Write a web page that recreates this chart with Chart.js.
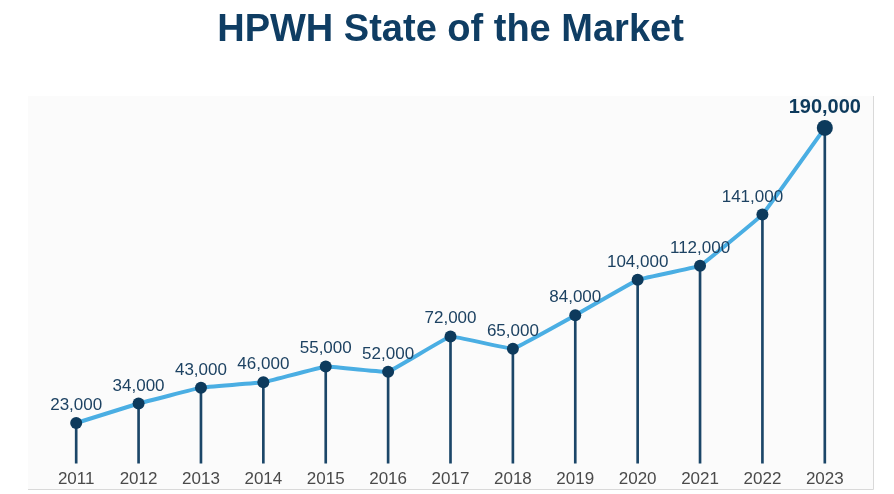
<!DOCTYPE html>
<html>
<head>
<meta charset="utf-8">
<script src="https://cdn.jsdelivr.net/npm/chart.js@4.4.1/dist/chart.umd.min.js"></script>
<style>
html,body{margin:0;padding:0;background:#fff;}
#wrap{width:894px;height:494px;position:relative;}
</style>
</head>
<body>
<div id="wrap"><canvas id="c" width="894" height="494"></canvas></div>
<script>
const years = ['2011','2012','2013','2014','2015','2016','2017','2018','2019','2020','2021','2022','2023'];
const units = [23000,34000,43000,46000,55000,52000,72000,65000,84000,104000,112000,141000,190000];
const titleText = 'HPWH State of the Market';

const FONT = "'Liberation Sans', Arial, Helvetica, sans-serif";
const NAVY = '#0d3a5c';

const panelPlugin = {
  id: 'panel',
  beforeDraw(chart) {
    const ctx = chart.ctx;
    ctx.save();
    ctx.fillStyle = '#fbfbfb';
    ctx.fillRect(28, 96, 845, 393);
    ctx.strokeStyle = '#d9d9d9';
    ctx.lineWidth = 1;
    ctx.beginPath();
    ctx.moveTo(28, 489.5); ctx.lineTo(873.5, 489.5); ctx.lineTo(873.5, 96);
    ctx.stroke();
    ctx.restore();
  }
};

const labelPlugin = {
  id: 'valueLabels',
  afterDatasetsDraw(chart) {
    const ctx = chart.ctx;
    const meta = chart.getDatasetMeta(0);
    const last = units.length - 1;
    ctx.save();
    ctx.textAlign = 'center';
    ctx.textBaseline = 'alphabetic';
    meta.data.forEach((pt, i) => {
      const txt = units[i].toLocaleString('en-US');
      if (i === last) {
        ctx.font = 'bold 20px ' + FONT;
        ctx.fillStyle = NAVY;
        ctx.fillText(txt, pt.x, pt.y - 15);
      } else {
        ctx.font = '17px ' + FONT;
        ctx.fillStyle = '#1d4262';
        const dx = (i === last - 1) ? -10 : 0;
        ctx.fillText(txt, pt.x + dx, pt.y - 13);
      }
    });
    ctx.restore();
  }
};

const radii = units.map((v, i) => i === units.length - 1 ? 8 : 6);

new Chart(document.getElementById('c'), {
  type: 'bar',
  data: {
    labels: years,
    datasets: [
      {
        type: 'line',
        data: units,
        borderColor: '#4aaee3',
        borderWidth: 4,
        tension: 0.05,
        pointRadius: radii,
        pointBackgroundColor: NAVY,
        pointBorderColor: NAVY,
        pointBorderWidth: 0,
        order: 0
      },
      {
        type: 'bar',
        data: units,
        backgroundColor: '#1b4668',
        barThickness: 2,
        order: 1
      }
    ]
  },
  options: {
    responsive: false,
    animation: false,
    devicePixelRatio: 1,
    layout: { padding: { left: 45, right: 38, top: 0, bottom: -2 } },
    plugins: {
      legend: { display: false },
      tooltip: { enabled: false },
      title: {
        display: true,
        text: titleText,
        color: '#0f3d63',
        font: { family: FONT, size: 38, weight: 'bold', lineHeight: 1.2 },
        padding: { top: 8, bottom: 39 }
      }
    },
    scales: {
      x: {
        offset: true,
        grid: { display: false, drawTicks: false },
        border: { display: false },
        ticks: { color: '#4a4a4a', font: { family: FONT, size: 17, lineHeight: 1.2 }, padding: 6 }
      },
      y: {
        display: false,
        min: 0,
        max: 210000
      }
    }
  },
  plugins: [panelPlugin, labelPlugin]
});
</script>
</body>
</html>
